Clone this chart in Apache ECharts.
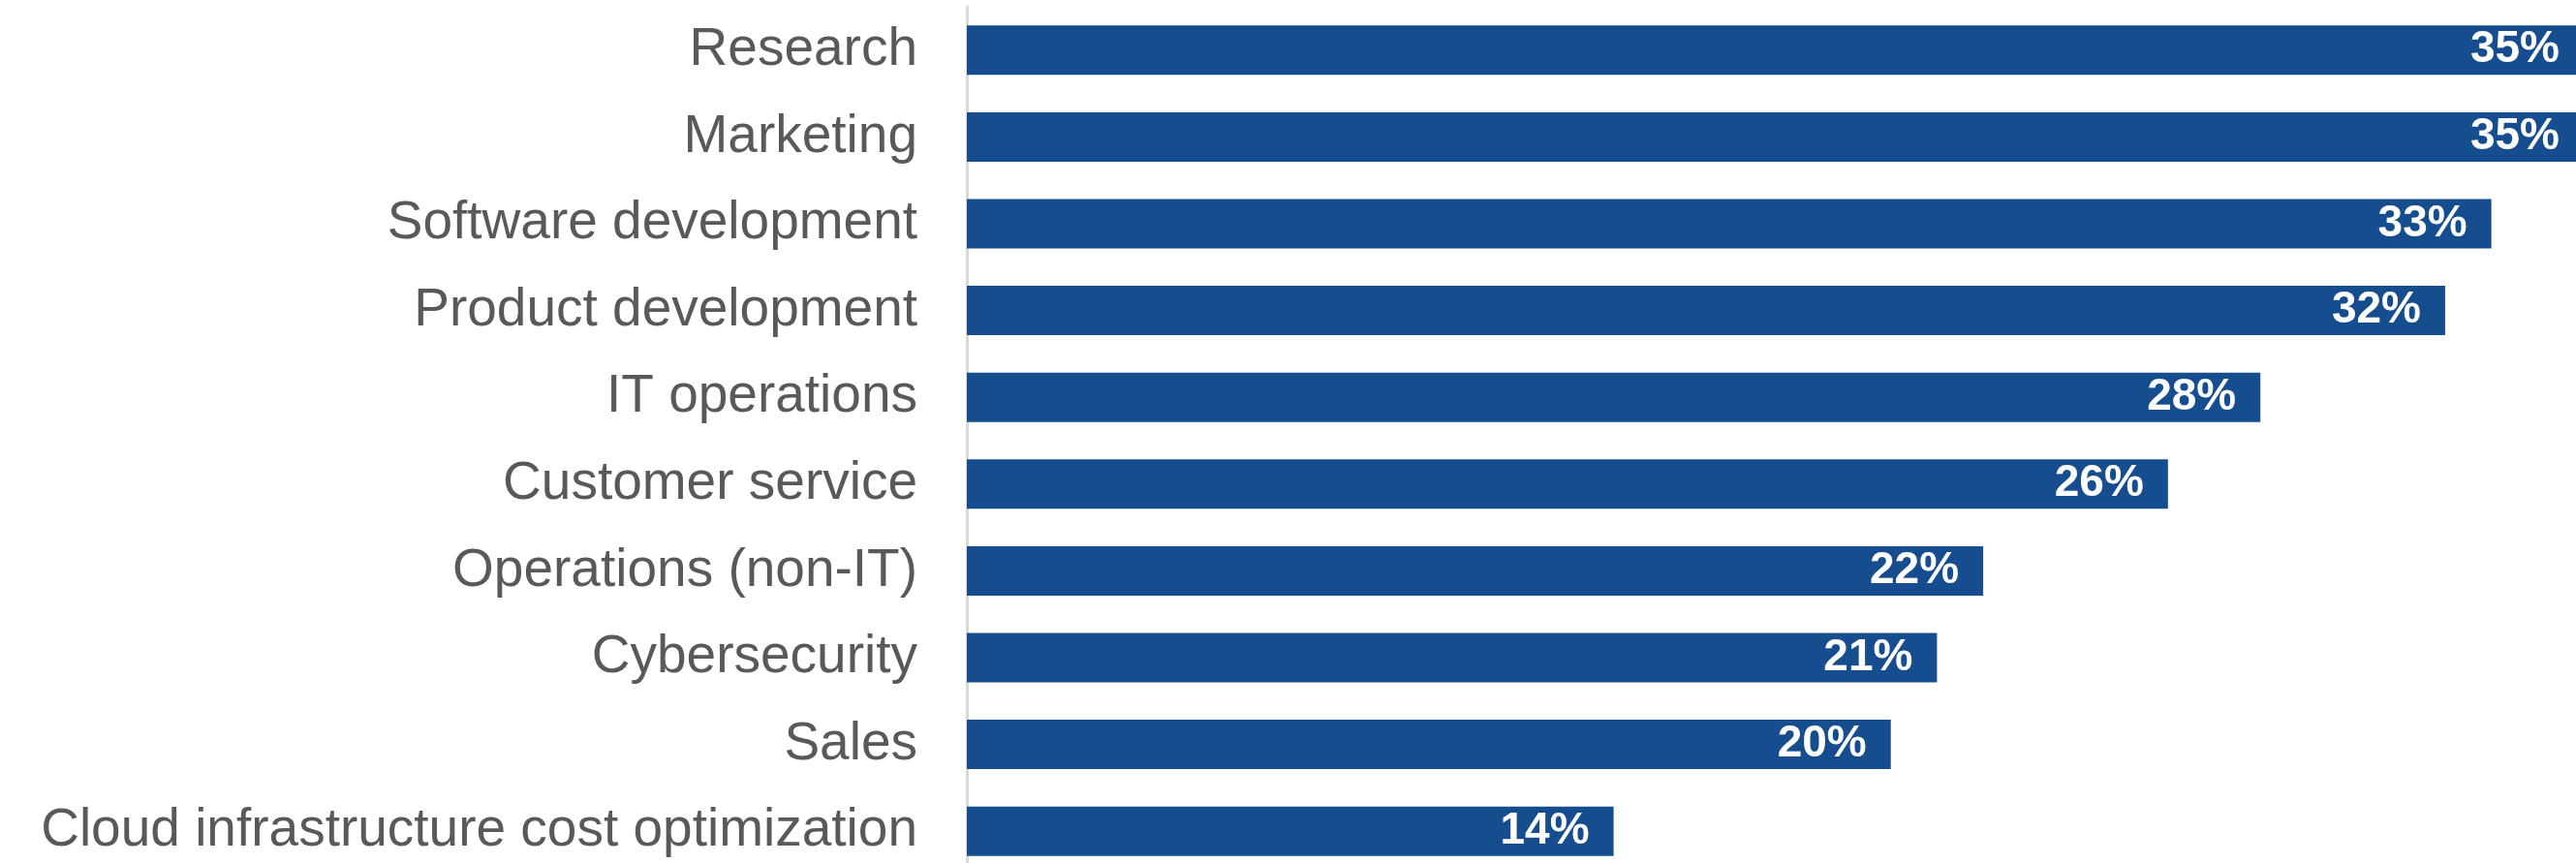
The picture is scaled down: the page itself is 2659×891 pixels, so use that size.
<!DOCTYPE html>
<html>
<head>
<meta charset="utf-8">
<script src="https://cdn.jsdelivr.net/npm/echarts@6/dist/echarts.min.js"></script>
<style>
html,body{margin:0;padding:0;background:#fff;}
#chart{width:2659px;height:891px;}
</style>
</head>
<body>
<div id="chart"></div>
<script>
const categories = [
  "Research",
  "Marketing",
  "Software development",
  "Product development",
  "IT operations",
  "Customer service",
  "Operations (non-IT)",
  "Cybersecurity",
  "Sales",
  "Cloud infrastructure cost optimization"
];
const values = [35, 35, 33, 32, 28, 26, 22, 21, 20, 14];

const chart = echarts.init(document.getElementById('chart'), null, {renderer: 'canvas'});
chart.setOption({
  animation: false,
  backgroundColor: '#ffffff',
  grid: {left: 998, top: 7, right: -8, bottom: -12, containLabel: false, outerBoundsMode: 'none'},
  xAxis: {
    type: 'value', min: 0, max: 35, show: false
  },
  yAxis: {
    type: 'category',
    data: categories,
    inverse: true,
    axisLine: {show: true, lineStyle: {color: '#d9d9d9', width: 3}},
    axisTick: {show: false},
    splitLine: {show: false},
    axisLabel: {
      fontSize: 55,
      color: '#595959',
      fontFamily: 'Liberation Sans, Arial, sans-serif',
      margin: 51
    }
  },
  series: [{
    type: 'bar',
    data: values,
    barWidth: 51,
    itemStyle: {color: '#154D8F'},
    label: {
      show: true,
      position: 'insideRight',
      distance: 25,
      formatter: '{c}%',
      color: '#ffffff',
      fontWeight: 'bold',
      fontSize: 46,
      fontFamily: 'Liberation Sans, Arial, sans-serif'
    }
  }]
});
</script>
</body>
</html>
